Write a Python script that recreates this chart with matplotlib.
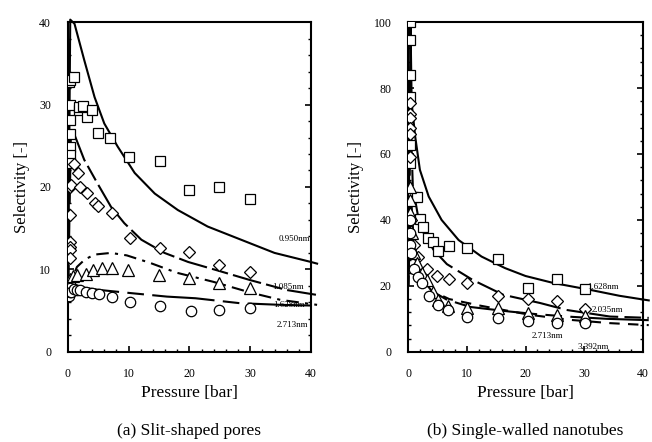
import numpy as np
import matplotlib
matplotlib.use('Agg')
import matplotlib.pyplot as plt
from matplotlib.ticker import MultipleLocator

plt.rcParams['font.family'] = ['Liberation Serif', 'DejaVu Serif']

# ---- (a) slit-shaped pores : simulation points ----
a_sq_x = [0.2, 0.3, 0.3, 0.3, 0.3, 0.3, 0.3, 0.3, 1.0, 1.8, 1.8, 2.5, 3.1, 4.0, 4.9, 6.9, 10.0, 15.1, 19.9, 24.9, 29.9]
a_sq_y = [32.7, 33.0, 30.0, 28.1, 26.4, 24.9, 23.9, 22.9, 33.3, 29.3, 29.7, 29.8, 28.5, 29.3, 26.6, 25.9, 23.6, 23.2, 19.6, 20.0, 18.6]
a_di_x = [0.3, 0.3, 0.3, 0.3, 0.3, 0.3, 0.6, 1.0, 1.7, 2.0, 3.1, 4.4, 5.0, 7.2, 10.2, 15.1, 20.0, 24.9, 30.0]
a_di_y = [20.0, 16.6, 13.3, 12.7, 12.4, 11.4, 20.2, 22.8, 21.7, 20.0, 19.3, 18.0, 17.7, 16.9, 13.8, 12.6, 12.1, 10.5, 9.7]
a_tr_x = [0.4, 0.8, 1.5, 3.0, 4.2, 5.6, 7.2, 9.9, 15.0, 20.0, 24.9, 30.0]
a_tr_y = [8.8, 9.2, 9.3, 9.5, 9.9, 10.2, 10.2, 9.9, 9.3, 9.0, 8.4, 7.8]
a_ci_x = [0.2, 0.3, 0.4, 0.6, 1.0, 1.5, 2.0, 3.0, 4.0, 5.2, 7.2, 10.2, 15.1, 20.2, 24.9, 30.0]
a_ci_y = [6.8, 7.3, 7.8, 7.2, 7.6, 7.5, 7.5, 7.3, 7.1, 7.0, 6.6, 6.1, 5.5, 5.0, 5.1, 5.3]

# ---- (a) model curves ----
a_c1_x = [0.05, 0.4, 1.1, 2.7, 4.4, 6.0, 8.2, 11.0, 14.3, 18.1, 23.0, 28.5, 34.0, 40.0, 41.0]
a_c1_y = [7.0, 40.3, 39.8, 35.4, 30.9, 27.7, 24.9, 21.7, 19.2, 17.2, 15.2, 13.6, 12.0, 10.9, 10.7]
a_c2_x = [0.05, 0.5, 0.8, 2.7, 4.9, 7.1, 9.3, 12.1, 15.9, 19.8, 24.5, 30, 36, 41]
a_c2_y = [7.0, 26.0, 26.9, 23.3, 20.4, 17.6, 15.6, 13.6, 12.0, 10.9, 9.9, 8.7, 7.5, 6.9]
a_c3_x = [0.05, 0.5, 1.5, 2.8, 4.4, 7.1, 9.7, 13.5, 17.9, 23.9, 30, 35, 41]
a_c3_y = [6.5, 8.5, 10.3, 11.2, 11.8, 12.0, 11.7, 10.8, 9.6, 8.5, 7.2, 6.3, 5.7]
a_c4_x = [0.05, 0.5, 1.5, 5.3, 10.7, 16.3, 21, 28.3, 35, 41]
a_c4_y = [6.0, 7.6, 7.9, 7.5, 7.1, 6.7, 6.5, 5.9, 5.7, 5.6]
a_labels = ['0.950nm', '1.085nm', '1.628nm', '2.713nm']
a_lab_x = [34.6, 33.6, 33.8, 34.4]
a_lab_y = [13.7, 7.9, 5.7, 3.2]

# ---- (b) single-walled nanotubes : simulation points ----
b_sq_x = [0.3, 0.3, 0.3, 0.3, 0.4, 0.4, 0.8, 1.5, 2.0, 2.6, 3.4, 4.3, 5.1, 7.0, 10.0, 15.3, 20.4, 25.4, 30.1]
b_sq_y = [100.0, 94.5, 84.0, 77.3, 62.7, 57.3, 47.0, 47.0, 40.3, 37.9, 34.5, 33.3, 30.6, 32.1, 31.5, 28.2, 19.4, 22.1, 19.1]
b_di_x = [0.4, 0.4, 0.4, 0.3, 0.3, 0.4, 0.5, 1.0, 1.7, 3.2, 5.0, 7.0, 10.0, 15.3, 20.4, 25.4, 30.1]
b_di_y = [75.5, 72.0, 71.0, 68.0, 66.0, 59.0, 40.0, 32.4, 28.8, 25.2, 23.0, 22.0, 20.9, 16.8, 16.0, 15.3, 13.0]
b_tr_x = [0.3, 0.3, 0.4, 0.6, 1.0, 1.5, 2.4, 3.2, 4.3, 5.1, 6.8, 10.0, 15.3, 20.4, 25.4, 30.1]
b_tr_y = [50.0, 46.0, 42.0, 36.0, 30.0, 27.0, 23.9, 21.8, 18.2, 15.8, 14.0, 13.3, 13.3, 11.8, 11.2, 10.9]
b_ci_x = [0.3, 0.3, 0.3, 0.5, 1.0, 1.7, 2.4, 3.5, 5.1, 6.8, 10.0, 15.3, 20.4, 25.4, 30.1]
b_ci_y = [40.0, 36.0, 32.4, 30.0, 25.0, 22.7, 21.0, 17.0, 14.2, 12.7, 10.6, 10.3, 9.5, 8.8, 8.8]

# ---- (b) model curves ----
b_c1_x = [0.05, 0.4, 0.6, 1.2, 2.0, 3.5, 5.7, 8.6, 12.5, 16.5, 20.0, 24.7, 31.0, 36.0, 41.0]
b_c1_y = [30.0, 100.0, 75.4, 65.3, 55.2, 47.1, 40.0, 33.9, 28.9, 25.4, 23.0, 20.9, 18.8, 17.0, 15.6]
b_c2_x = [0.05, 0.4, 0.8, 2.0, 4.3, 6.6, 11, 16.2, 22.5, 27, 34.4, 41]
b_c2_y = [25.0, 72.0, 50.0, 38.0, 31.0, 26.6, 21.8, 17.3, 14.8, 12.7, 10.7, 10.3]
b_c3_x = [0.05, 0.4, 1.0, 2.0, 3.7, 6.6, 10.6, 17.4, 22, 28, 34, 41]
b_c3_y = [20.0, 50.0, 32.0, 24.0, 18.8, 15.8, 13.6, 12.2, 11.4, 10.6, 10.0, 9.6]
b_c4_x = [0.05, 0.4, 1.0, 2.0, 4.0, 7.0, 12.3, 20.8, 27.6, 34.4, 41]
b_c4_y = [20.0, 45.0, 30.0, 23.0, 18.5, 16.0, 14.0, 11.2, 9.7, 8.7, 8.1]
b_labels = ['1.628nm', '2.035nm', '2.713nm', '3.392nm']
b_lab_x = [30.5, 31.3, 21.0, 28.8]
b_lab_y = [19.8, 12.7, 4.8, 1.5]

fig = plt.figure(figsize=(6.52, 4.42), dpi=100)
ax1 = fig.add_axes([0.104, 0.204, 0.373, 0.746])
ax2 = fig.add_axes([0.626, 0.204, 0.360, 0.746])

mk = dict(linestyle='none', mfc='white', mec='black', mew=0.9, zorder=4)
lw = 1.5


def draw_points(ax, sq, di, tr, ci):
    ax.plot(sq[0], sq[1], marker='s', ms=7, **mk)
    ax.plot(di[0], di[1], marker='D', ms=6.5, **mk)
    ax.plot(tr[0], tr[1], marker='^', ms=8, **mk)
    ax.plot(ci[0], ci[1], marker='o', ms=7.5, **mk)


def style(ax, ymax, ystep, caption):
    ax.set_xlim(0, 40)
    ax.set_ylim(0, ymax)
    ax.xaxis.set_major_locator(MultipleLocator(10))
    ax.xaxis.set_minor_locator(MultipleLocator(2))
    ax.yaxis.set_major_locator(MultipleLocator(ystep))
    ax.yaxis.set_minor_locator(MultipleLocator(ystep / 5))
    ax.tick_params(which='both', direction='in', top=False, right=True, labelsize=8.5, pad=12)
    ax.tick_params(which='major', length=4, width=1.2)
    ax.tick_params(which='minor', length=2.5, width=1.0)
    for s in ax.spines.values():
        s.set_linewidth(1.5)
    ax.set_ylabel('Selectivity [-]', fontsize=12, labelpad=7)
    ax.set_xlabel('Pressure [bar]', fontsize=12.5, labelpad=3)
    ax.text(0.5, -0.24, caption, transform=ax.transAxes, ha='center', va='center', fontsize=12.5)


# (a)
draw_points(ax1, (a_sq_x, a_sq_y), (a_di_x, a_di_y), (a_tr_x, a_tr_y), (a_ci_x, a_ci_y))
ax1.plot(a_c1_x, a_c1_y, color='black', lw=lw, clip_on=False, zorder=3)
ax1.plot(a_c2_x, a_c2_y, color='black', lw=lw, dashes=(14, 2.5, 8, 2.5), clip_on=False, zorder=3)
ax1.plot(a_c3_x, a_c3_y, color='black', lw=lw, dashes=(6, 3, 1.5, 3), clip_on=False, zorder=3)
ax1.plot(a_c4_x, a_c4_y, color='black', lw=lw, dashes=(30, 4, 8, 4), clip_on=False, zorder=3)
for t, x, y in zip(a_labels, a_lab_x, a_lab_y):
    ax1.text(x, y, t, fontsize=6.5, ha='left', va='center', zorder=5)
style(ax1, 40, 10, '(a) Slit-shaped pores')

# (b)
draw_points(ax2, (b_sq_x, b_sq_y), (b_di_x, b_di_y), (b_tr_x, b_tr_y), (b_ci_x, b_ci_y))
ax2.plot(b_c1_x, b_c1_y, color='black', lw=lw, clip_on=False, zorder=3)
ax2.plot(b_c2_x, b_c2_y, color='black', lw=lw, dashes=(14, 3, 8, 3), clip_on=False, zorder=3)
ax2.plot(b_c3_x, b_c3_y, color='black', lw=lw, dashes=(40, 4, 8, 4), clip_on=False, zorder=3)
ax2.plot(b_c4_x, b_c4_y, color='black', lw=lw, dashes=(5, 4), clip_on=False, zorder=3)
for t, x, y in zip(b_labels, b_lab_x, b_lab_y):
    ax2.text(x, y, t, fontsize=6.5, ha='left', va='center', zorder=5)
style(ax2, 100, 20, '(b) Single-walled nanotubes')

fig.savefig('out.png', dpi=100)
